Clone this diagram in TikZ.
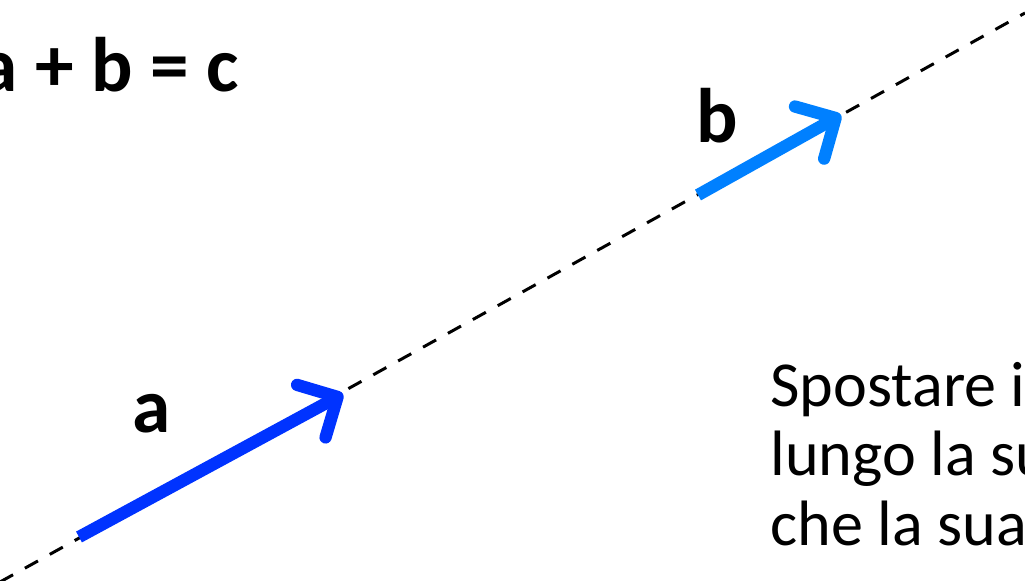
\documentclass[tikz,border=0pt]{standalone}
\usepackage{fontspec}
\setmainfont{Carlito}
\usepackage{tikz}
\usetikzlibrary{arrows.meta,positioning,calc}
\definecolor{veca}{RGB}{0,51,255}
\definecolor{vecb}{RGB}{0,128,255}
\tikzstyle{retta} = [draw, line width=1.7pt, dash pattern=on 8.5pt off 7.7pt]
\tikzstyle{vettore} = [draw, line width=7pt, -{Straight Barb[round, length=17pt, width=34pt]}]
\tikzstyle{nome} = [inner sep=0pt, font=\fontsize{44}{52}\selectfont\bfseries]

\begin{document}
\begin{tikzpicture}[x=0.02cm, y=-0.02cm]
    \useasboundingbox (0,0) rectangle (1025,581);
    \coordinate (r0) at (0,582);
    \coordinate (r1) at (1025,13);
    \coordinate (a0) at (79,537);
    \coordinate (a1) at (343,394);
    \coordinate (b0) at (698,195);
    \coordinate (b1) at (841,115);

    \path [retta] (r0) -- (r1);
    \path [vettore, veca] (a0) -- (a1);
    \path [vettore, vecb] (b0) -- (b1);

    \node [nome, anchor=base east] (somma) at (239,92) {a + b = c};
    \node [nome, anchor=base west] (la) at (132,432) {a};
    \node [nome, anchor=base west] (lb) at (696,143) {b};
    \node [inner sep=0pt, anchor=base west, align=left,
           font=\fontsize{36.5}{40}\selectfont] (testo) at (770,545)
           {Spostare i\\[-0.6pt]lungo la su\\[-0.6pt]che la sua};
\end{tikzpicture}
\end{document}
